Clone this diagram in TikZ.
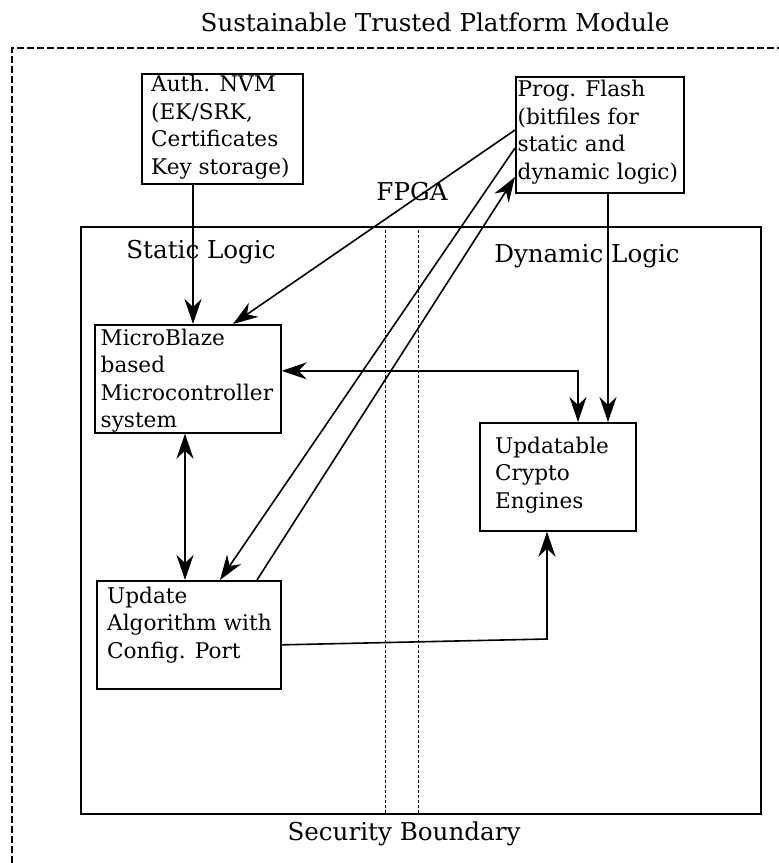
\documentclass[tikz,border=0pt]{standalone}
\usepackage{fontspec}
\setmainfont{DejaVu Serif}
\usetikzlibrary{arrows.meta}
\tikzset{
  boxshape/.style={draw, line width=1.7pt, rectangle, inner sep=0pt, anchor=north west},
  boxtext/.style={anchor=north west, inner sep=0pt, align=left,
    font=\fontsize{21.6}{27.5}\selectfont},
  bigtext/.style={inner sep=0pt, font=\fontsize{24.6}{29}\selectfont},
  conn/.style={line width=1.6pt},
  tip/.tip={Stealth[length=25pt,width=17pt,inset=8pt]},
  arr/.style={conn, -tip},
  darr/.style={conn, tip-tip},
  sep/.style={line width=1pt, dash pattern=on 3pt off 2pt},
  outer/.style={line width=1.1pt, dash pattern=on 7pt off 3pt}
}
\begin{document}
\begin{tikzpicture}[x=1pt,y=-1pt]
\useasboundingbox (0,0) rectangle (779,863);
% outer module boundary
\draw[outer] (12,863) -- (12,48) -- (779,48);
\node[bigtext] (title) at (435,22) {Sustainable Trusted Platform Module};
% FPGA
\node[boxshape, minimum width=680pt, minimum height=587pt] (fpga) at (80,226) {};
\node[bigtext] (fpgal) at (412,192) {FPGA};
\node[bigtext] (static) at (201,252) {Static Logic};
\node[bigtext] (dynamic) at (587,256) {Dynamic Logic};
\node[bigtext] (secb) at (404,834) {Security Boundary};
\coordinate (s1t) at (385,230);
\coordinate (s2t) at (418,230);
\draw[sep] (s1t) -- (s1t |- fpga.south);
\draw[sep] (s2t) -- (s2t |- fpga.south);
% boxes
\node[boxshape, minimum width=161pt, minimum height=110pt] (auth) at (141,73) {};
\node[boxtext] (autht) at (151,75.3) {Auth. NVM\\(EK/SRK,\\Certificates\\Key storage)};
\node[boxshape, minimum width=168pt, minimum height=116pt] (flash) at (515,76) {};
\node[boxtext] (flasht) at (517.5,80.3) {Prog. Flash\\(bitfiles for\\static and\\dynamic logic)};
\node[boxshape, minimum width=186pt, minimum height=108pt] (mb) at (94,324) {};
\node[boxtext] (mbt) at (100.5,328.6) {MicroBlaze\\based\\Microcontroller\\system};
\node[boxshape, minimum width=156pt, minimum height=108pt] (ce) at (479,422) {};
\node[boxtext] (cet) at (495,436.6) {Updatable\\Crypto\\Engines};
\node[boxshape, minimum width=184pt, minimum height=108pt] (ua) at (96,580) {};
\node[boxtext] (uat) at (107,586.6) {Update\\Algorithm with\\Config. Port};
% connectors
\coordinate (a1) at ([xshift=52pt]auth.south west);
\draw[arr] (a1) -- (a1 |- mb.north);
\draw[arr] ([yshift=-54pt]flash.north west) -- ([xshift=139pt]mb.north west);
\draw[arr] ([yshift=-72pt]flash.north west) -- ([xshift=124pt]ua.north west);
\draw[arr] ([xshift=161pt]ua.north west) -- ([yshift=-101pt]flash.north west);
\coordinate (f1) at ([xshift=93pt]flash.south west);
\draw[arr] (f1) -- (f1 |- ce.north);
\draw[darr] ([yshift=8pt]mb.east) -| ([xshift=99pt]ce.north west);
\coordinate (m1) at ([xshift=91pt]mb.south west);
\draw[darr] (m1) -- (m1 |- ua.north);
\coordinate (bend) at (547,639);
\draw[arr] ([yshift=-10pt]ua.east) -- (bend) -- (bend |- ce.south);
\end{tikzpicture}
\end{document}
